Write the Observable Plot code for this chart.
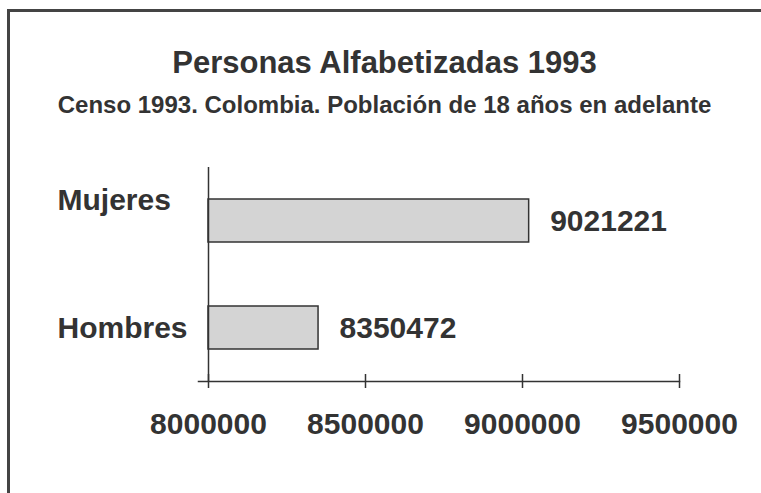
<!DOCTYPE html>
<html>
<head>
<meta charset="utf-8">
<script src="https://cdn.jsdelivr.net/npm/d3@7"></script>
<script src="https://cdn.jsdelivr.net/npm/@observablehq/plot@0.6"></script>
<style>
  html, body { margin: 0; padding: 0; background: #fff; overflow: hidden; }
  #wrap { position: relative; width: 761px; height: 493px; overflow: hidden;
          font-family: "Liberation Sans", Arial, sans-serif; font-weight: bold; color: #333; }
  #border { position: absolute; left: 7px; top: 9px; width: 800px; height: 600px;
            border-left: 3px solid #444; border-top: 3px solid #444; }
  .t { position: absolute; left: 4px; width: 761px; text-align: center; line-height: 1; white-space: nowrap; }
  #title { top: 47px; font-size: 31px; }
  #subtitle { top: 93px; font-size: 24px; }
  #chart { position: absolute; left: 0; top: 0; }
</style>
</head>
<body>
<div id="wrap">
  <div id="border"></div>
  <div class="t" id="title">Personas Alfabetizadas 1993</div>
  <div class="t" id="subtitle">Censo 1993. Colombia. Población de 18 años en adelante</div>
  <div id="chart"></div>
</div>
<script>
const categories = ["Mujeres", "Hombres"];
const values = [9021221, 8350472];
const xTicks = [8000000, 8500000, 9000000, 9500000];

const data = categories.map((c, i) => ({sexo: c, valor: values[i]}));
const ink = "#333";
const font = "\"Liberation Sans\", Arial, sans-serif";

const chart = Plot.plot({
  width: 761,
  height: 493,
  marginLeft: 208,
  marginRight: 82,
  marginTop: 167,
  marginBottom: 112,
  style: {background: "transparent", fontFamily: font, fontWeight: "bold", color: ink, overflow: "visible"},
  x: {domain: [xTicks[0], xTicks[xTicks.length - 1]], label: null},
  y: {domain: categories, paddingInner: 0.6, paddingOuter: 0.3, axis: null},
  marks: [
    Plot.barX(data, {y: "sexo", x1: xTicks[0], x2: "valor", fill: "#d4d4d4", stroke: ink, strokeWidth: 1.5}),
    Plot.ruleX([xTicks[0]], {stroke: ink, strokeWidth: 1.5}),
    Plot.frame({anchor: "bottom", stroke: ink, strokeWidth: 1.5, insetLeft: -10}),
    Plot.axisX({ticks: xTicks, tickSize: 14, dy: -7, tickFormat: () => "", stroke: ink, strokeWidth: 1.5}),
    Plot.axisX({ticks: xTicks, tickSize: 0, tickPadding: 31, tickFormat: d => String(d), fontSize: 30, fill: ink}),
    Plot.text(data, {x: "valor", y: "sexo", text: d => String(d.valor), textAnchor: "start", dx: 21, fontSize: 30, fill: ink}),
    Plot.text(data.filter(d => d.sexo === "Mujeres"), {y: "sexo", frameAnchor: "left", text: "sexo", textAnchor: "start", dx: -151, dy: -21, fontSize: 30, fill: ink}),
    Plot.text(data.filter(d => d.sexo === "Hombres"), {y: "sexo", frameAnchor: "left", text: "sexo", textAnchor: "start", dx: -151, fontSize: 30, fill: ink})
  ]
});
document.getElementById("chart").appendChild(chart);
</script>
</body>
</html>
